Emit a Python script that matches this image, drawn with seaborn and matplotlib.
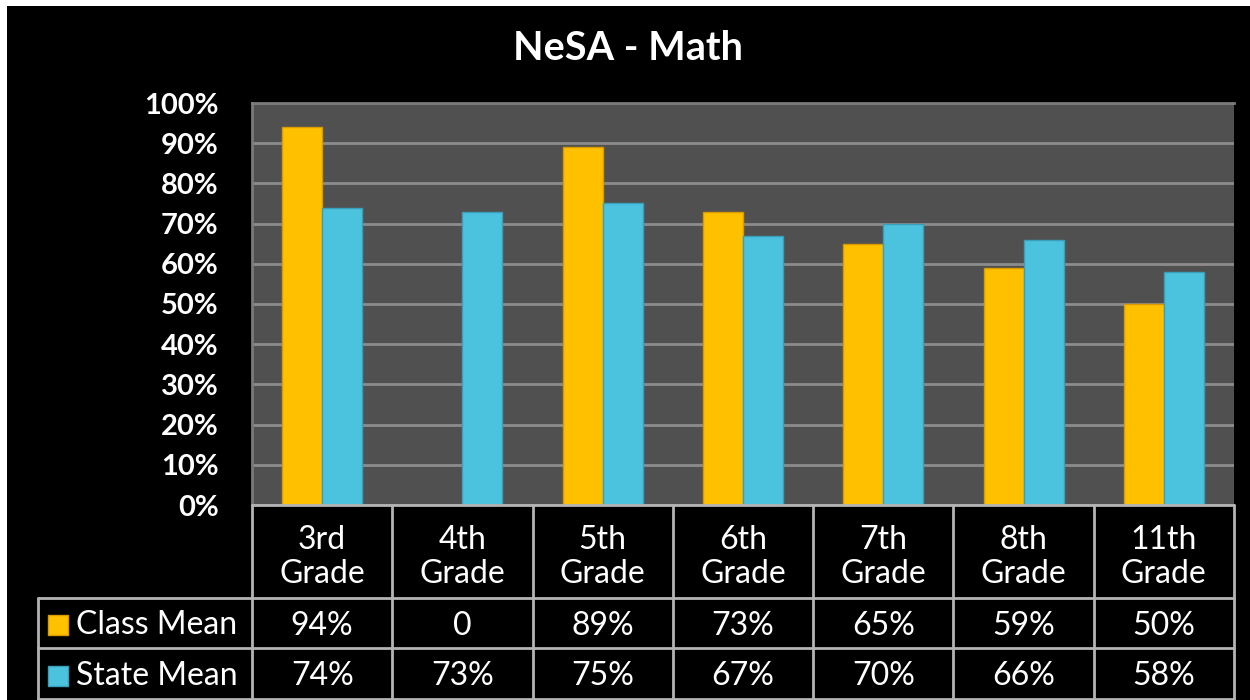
import matplotlib
matplotlib.use("Agg")
import matplotlib.pyplot as plt
import seaborn as sns
import pandas as pd
from matplotlib.patches import Rectangle
import matplotlib.transforms as mtransforms

# ---- data ----
categories = ["3rd\nGrade", "4th\nGrade", "5th\nGrade", "6th\nGrade",
              "7th\nGrade", "8th\nGrade", "11th\nGrade"]
series_names = ["Class Mean", "State Mean"]
class_mean = [94, 0, 89, 73, 65, 59, 50]
state_mean = [74, 73, 75, 67, 70, 66, 58]
y_ticks = [0, 10, 20, 30, 40, 50, 60, 70, 80, 90, 100]
title = "NeSA - Math"

colors = {"Class Mean": "#FFC000", "State Mean": "#4BC3DF"}
edge_colors = {"Class Mean": "#D99A00", "State Mean": "#3A9FB8"}

df = pd.DataFrame({
    "Grade": categories * 2,
    "Series": [series_names[0]] * len(categories) + [series_names[1]] * len(categories),
    "Value": class_mean + state_mean,
})

sns.set_theme(style="dark")
plt.rcParams["font.family"] = ["Lato", "DejaVu Sans"]

fig = plt.figure(figsize=(12.5, 7), dpi=100, facecolor="white")
# black slide background (white strip at top/left)
fig.patches.append(Rectangle((7 / 1250, 0), 1, 1 - 6 / 700, transform=fig.transFigure,
                             facecolor="black", edgecolor="none", zorder=-10))

W, H = 1250, 700
L, R, T, B = 252, 1234, 103, 505
ax = fig.add_axes([L / W, 1 - B / H, (R - L) / W, (B - T) / H])
ax.set_facecolor("#505050")

sns.barplot(data=df, x="Grade", y="Value", hue="Series", palette=colors,
            width=0.57, gap=0, ax=ax, legend=False, saturation=1)
for cont, name in zip(ax.containers, series_names):
    for bar in cont:
        bar.set_edgecolor(edge_colors[name])
        bar.set_linewidth(1.0)
        bar.set_zorder(3)

ax.set_xlim(-0.5, len(categories) - 0.5)
ax.set_ylim(0, 100)
ax.set_yticks(y_ticks)
ax.set_yticklabels([f"{t}%" for t in y_ticks], color="white",
                   fontsize=21, fontweight="bold")
ax.tick_params(axis="y", length=0, pad=24)
ax.set_xticks([])
ax.set_xlabel("")
ax.set_ylabel("")
ax.grid(axis="y", color="#8c8c8c", linewidth=2, zorder=0)
ax.grid(axis="x", visible=False)
ax.set_axisbelow(True)
for side in ["left", "top"]:
    ax.spines[side].set_visible(True)
    ax.spines[side].set_color("#7a7a7a")
    ax.spines[side].set_linewidth(2)
ax.spines["right"].set_visible(False)
ax.spines["bottom"].set_visible(False)

fig.text(628 / W, 1 - 48 / H, title, color="white", fontsize=28.5,
         fontweight="bold", ha="center", va="center")

# ---- data table below the plot ----
trans = mtransforms.blended_transform_factory(ax.transData, ax.transAxes)
ph = B - T
def ya(ypx):
    return (B - ypx) / ph
px_per_unit = (R - L) / len(categories)
def xd(xpx):
    return -0.5 + (xpx - L) / px_per_unit

line_kw = dict(color="#b4b4b4", linewidth=2, clip_on=False, transform=trans, zorder=5)
x_right = len(categories) - 0.5
x_label_left = xd(38)
# horizontal lines
ax.plot([-0.5, x_right], [ya(505), ya(505)], **line_kw)
ax.plot([x_label_left, x_right], [ya(598), ya(598)], **line_kw)
ax.plot([x_label_left, x_right], [ya(648), ya(648)], **line_kw)
ax.plot([x_label_left, x_right], [ya(699), ya(699)], **line_kw)
# vertical lines
for k in range(len(categories) + 1):
    xk = -0.5 + k
    ax.plot([xk, xk], [ya(505), ya(700)], **line_kw)
ax.plot([x_label_left, x_label_left], [ya(598), ya(700)], **line_kw)

txt_kw = dict(color="white", fontsize=23, transform=trans, clip_on=False)
for i, cat in enumerate(categories):
    ax.text(i, ya(557), cat, ha="center", va="center", linespacing=1.15, **txt_kw)
    cv = class_mean[i]
    ax.text(i, ya(626), f"{cv}%" if cv else "0", ha="center", va="center", **txt_kw)
    ax.text(i, ya(676), f"{state_mean[i]}%", ha="center", va="center", **txt_kw)

row_y = [ya(625), ya(676)]
for name, yy in zip(series_names, row_y):
    ax.scatter([xd(58)], [yy], marker="s", s=200, color=colors[name],
               edgecolor=edge_colors[name], transform=trans, clip_on=False, zorder=6)
    ax.text(xd(76), yy, name, ha="left", va="center", **txt_kw)

fig.savefig("out.png", dpi=100, facecolor=fig.get_facecolor())
